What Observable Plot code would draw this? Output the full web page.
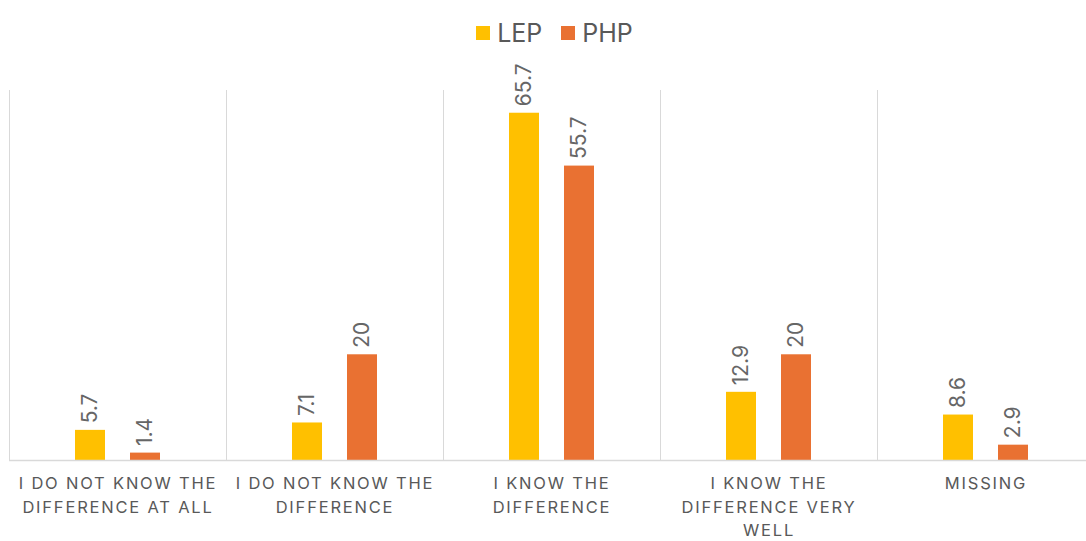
<!DOCTYPE html>
<html>
<head>
<meta charset="utf-8">
<script src="https://cdn.jsdelivr.net/npm/d3@7"></script>
<script src="https://cdn.jsdelivr.net/npm/@observablehq/plot@0.6"></script>
<style>
  html, body { margin: 0; padding: 0; background: #fff; overflow: hidden; width: 1086px; height: 541px; }
  #legend { height: 55px; display: flex; justify-content: center; align-items: center; gap: 19px; font-family: Inter, "Liberation Sans", sans-serif; font-size: 25px; color: #595959; padding-top: 10px; box-sizing: border-box; padding-left: 23px; }
  .item { display: flex; align-items: center; gap: 7px; }
  .sw { width: 14px; height: 14px; display: inline-block; }
  #chart svg { max-width: none !important; }
</style>
</head>
<body>
<div id="legend"></div>
<div id="chart"></div>
<script>
const categories = [
  "I do not know the difference at all",
  "I do not know the difference",
  "I know the difference",
  "I know the difference very well",
  "Missing"
];
const tickLabels = [
  "I DO NOT KNOW THE\nDIFFERENCE AT ALL",
  "I DO NOT KNOW THE\nDIFFERENCE",
  "I KNOW THE\nDIFFERENCE",
  "I KNOW THE\nDIFFERENCE VERY\nWELL",
  "MISSING"
];
const series = ["LEP", "PHP"];
const colors = ["#FFC000", "#E97132"];
const lepValues = [5.7, 7.1, 65.7, 12.9, 8.6];
const phpValues = [1.4, 20, 55.7, 20, 2.9];

const data = [];
categories.forEach((c, i) => {
  data.push({cat: c, series: "LEP", value: lepValues[i]});
  data.push({cat: c, series: "PHP", value: phpValues[i]});
});
const labelOf = new Map(categories.map((c, i) => [c, tickLabels[i]]));

const legend = document.getElementById("legend");
series.forEach((s, i) => {
  const it = document.createElement("div");
  it.className = "item";
  it.innerHTML = `<span class="sw" style="background:${colors[i]}"></span><span>${s}</span>`;
  legend.appendChild(it);
});

const chart = Plot.plot({
  width: 1095,
  height: 486,
  marginLeft: 9,
  marginRight: 1,
  marginTop: 35,
  marginBottom: 81,
  style: {fontFamily: "Inter, 'Liberation Sans', sans-serif", color: "#595959", background: "#fff", maxWidth: "none"},
  fx: {domain: categories, padding: 0, label: null},
  x: {domain: series, paddingInner: 0.46, paddingOuter: 1.185, axis: null},
  y: {domain: [0, 70], axis: null},
  color: {domain: series, range: colors},
  marks: [
    Plot.frame({anchor: "left", stroke: "#d9d9d9", strokeWidth: 1}),
    Plot.barY(data, {fx: "cat", x: "series", y: "value", fill: "series"}),
    Plot.ruleY([0], {stroke: "#d9d9d9", strokeWidth: 1.5}),
    Plot.text(data, {fx: "cat", x: "series", y: "value", text: d => String(d.value), rotate: -90, textAnchor: "start", dy: -7, fontSize: 21, fill: "#666666"}),
    Plot.axisFx({anchor: "bottom", tickSize: 0, tickPadding: 12, tickFormat: d => labelOf.get(d), fontSize: 16.5, lineHeight: 1.42, fill: "#595959", label: null})
  ]
});
chart.style.maxWidth = "none";
chart.querySelectorAll("g[aria-label='fx-axis tick label'] text").forEach(t => t.style.letterSpacing = "1.8px");
document.getElementById("chart").appendChild(chart);
</script>
</body>
</html>
